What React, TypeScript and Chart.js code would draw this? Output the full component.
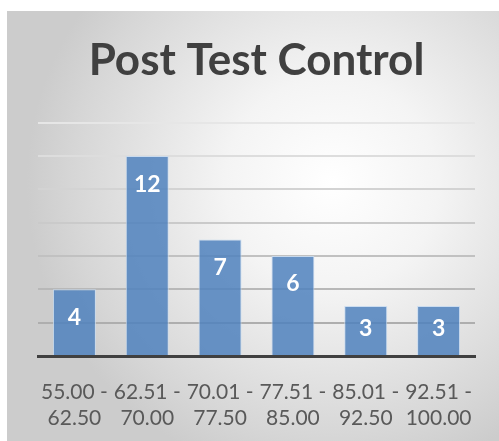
import React, { useEffect, useRef } from "react";
import { Chart, registerables } from "chart.js";

Chart.register(...registerables);

const categories: string[][] = [
  ["55.00 -", "62.50"],
  ["62.51 -", "70.00"],
  ["70.01 -", "77.50"],
  ["77.51 -", "85.00"],
  ["85.01 -", "92.50"],
  ["92.51 -", "100.00"],
];
const counts: number[] = [4, 12, 7, 6, 3, 3];
const titleText = "Post Test Control";
const yMin = 0;
const yMax = 14;
const yStep = 2;

const FONT = "Lato, 'Open Sans', sans-serif";

const dataLabels = {
  id: "dataLabels",
  afterDatasetsDraw(chart: any) {
    const ctx = chart.ctx;
    const meta = chart.getDatasetMeta(0);
    ctx.save();
    ctx.fillStyle = "#ffffff";
    ctx.font = `bold 23px ${FONT}`;
    ctx.textAlign = "center";
    ctx.textBaseline = "middle";
    meta.data.forEach((bar: any, i: number) => {
      const h = bar.base - bar.y;
      const off = Math.min(28, h / 2 - 2);
      ctx.fillText(String(counts[i]), bar.x, bar.y + off);
    });
    ctx.restore();
  },
};

export default function App() {
  const ref = useRef<HTMLCanvasElement | null>(null);
  useEffect(() => {
    if (!ref.current) return;
    const chart = new Chart(ref.current, {
      type: "bar",
      data: {
        labels: categories,
        datasets: [
          {
            data: counts,
            backgroundColor: "rgba(79,129,189,0.85)",
            borderColor: "rgba(200,218,240,0.9)",
            borderWidth: 1,
            barPercentage: 0.59,
            categoryPercentage: 1,
          },
        ],
      },
      options: {
        responsive: false,
        animation: false,
        layout: { padding: { left: 31, right: 24, top: 0, bottom: 10 } },
        plugins: {
          legend: { display: false },
          tooltip: { enabled: false },
          title: {
            display: true,
            text: titleText,
            color: "#404040",
            font: { family: FONT, size: 44, weight: "bold", lineHeight: 1.2 },
            padding: { top: 23, bottom: 36 },
          },
        },
        scales: {
          x: {
            z: 1,
            afterFit: (scale: any) => {
              scale.height = 75;
            },
            grid: { display: true, drawOnChartArea: false, drawTicks: false },
            border: { display: true, color: "#404040", width: 3 },
            ticks: {
              color: "#595959",
              font: { family: FONT, size: 21, lineHeight: 1.24 },
              padding: 23,
              maxRotation: 0,
              autoSkip: false,
            },
          },
          y: {
            min: yMin,
            max: yMax,
            ticks: { display: false, stepSize: yStep },
            border: { display: false },
            grid: {
              drawTicks: false,
              lineWidth: 2,
              color: (c: any) => {
                const v = c.tick ? c.tick.value : 0;
                const g = Math.round(165 + (v / yMax) * 65);
                return `rgb(${g},${g},${g})`;
              },
            },
          },
        },
      },
      plugins: [dataLabels],
    });
    return () => chart.destroy();
  }, []);

  return (
    <div
      style={{
        position: "absolute",
        left: 0,
        top: 0,
        width: 499,
        height: 441,
        background: "#ffffff",
        overflow: "hidden",
      }}
    >
      <div
        style={{
          position: "absolute",
          left: 7,
          top: 11,
          width: 492,
          height: 430,
          background:
            "radial-gradient(ellipse 62% 70% at 66% 40%, #ffffff 0%, #f4f4f4 35%, #d6d6d6 85%, #cccccc 100%)",
        }}
      >
        <canvas ref={ref} width={492} height={430} style={{ display: "block" }} />
      </div>
    </div>
  );
}
